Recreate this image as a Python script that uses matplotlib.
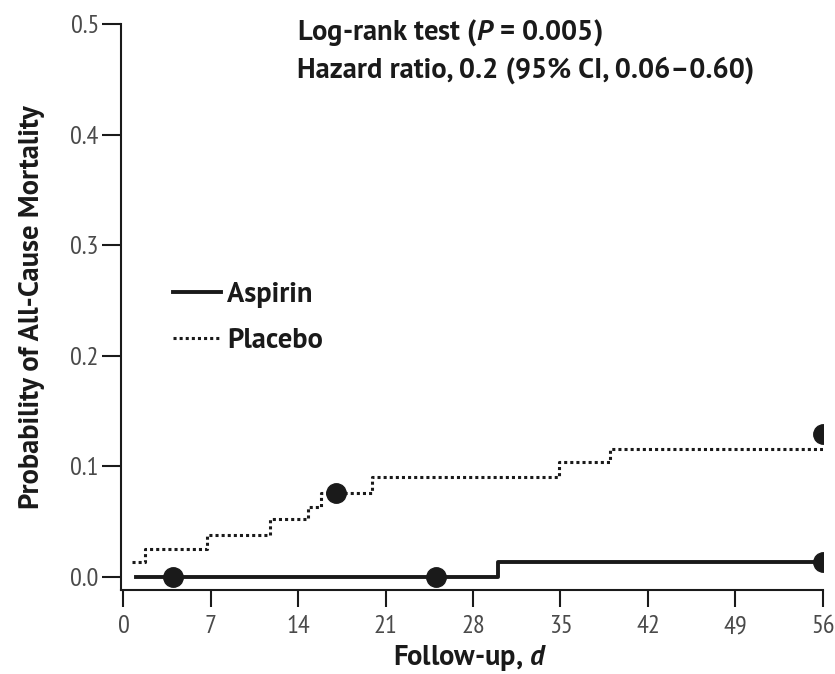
import matplotlib.pyplot as plt

# step data (days, cumulative probability)
aspirin_days = [1, 30, 56]
aspirin_prob = [0.0, 0.013, 0.013]
placebo_days = [0.7, 1.7, 6.7, 11.7, 14.8, 15.8, 19.9, 34.9, 39.0, 56]
placebo_prob = [0.013, 0.025, 0.038, 0.052, 0.063, 0.076, 0.090, 0.104, 0.116, 0.116]

# censoring dots
aspirin_cens_x = [4, 25, 56]
aspirin_cens_y = [0.0, 0.0, 0.013]
placebo_cens_x = [17, 56]
placebo_cens_y = [0.076, 0.129]

xticks = [0, 7, 14, 21, 28, 35, 42, 49, 56]
yticks = [0.0, 0.1, 0.2, 0.3, 0.4, 0.5]

MAIN = ['PT Sans', 'DejaVu Sans']
NARROW = ['PT Sans Narrow', 'DejaVu Sans']
plt.rcParams['font.family'] = MAIN
plt.rcParams['mathtext.fontset'] = 'custom'
plt.rcParams['mathtext.bfit'] = 'PT Sans:italic:bold'
plt.rcParams['mathtext.it'] = 'PT Sans:italic'
plt.rcParams['mathtext.rm'] = 'PT Sans'
plt.rcParams['mathtext.bf'] = 'PT Sans:bold'
ink = '#1a1a1a'
W, H = 835, 674
FS = 20.5

fig = plt.figure(figsize=(8.35, 6.74), dpi=100)
ax = fig.add_axes([121 / W, 84 / H, 701.7 / W, 566 / H])

ax.step(aspirin_days, aspirin_prob, where='post', color=ink, lw=2.8,
        label='Aspirin')
ax.step(placebo_days, placebo_prob, where='post', color=ink, lw=2.2,
        linestyle=(0, (1, 1)), label='Placebo')
ax.plot(aspirin_cens_x, aspirin_cens_y, 'o', color=ink, ms=14, zorder=3)
ax.plot(placebo_cens_x, placebo_cens_y, 'o', color=ink, ms=14, zorder=3)

ax.set_xlim(-0.2, 56)
ax.set_ylim(-0.012, 0.5)
ax.set_xticks(xticks)
ax.set_yticks(yticks)
ax.set_yticklabels(['%.1f' % v for v in yticks])
ax.tick_params(axis='both', direction='out', width=1.5,
               color=ink, labelsize=19, labelcolor='#4a4a4a')
ax.tick_params(axis='x', length=12, pad=6)
ax.tick_params(axis='y', length=14, pad=2)
for lab in ax.get_xticklabels() + ax.get_yticklabels():
    lab.set_family(NARROW)
for s in ['top', 'right']:
    ax.spines[s].set_visible(False)
for s in ['left', 'bottom']:
    ax.spines[s].set_linewidth(1.5)
    ax.spines[s].set_color(ink)

ax.set_xlabel('Follow-up, $\\bfit{d}$', fontsize=FS, fontweight='bold',
              color=ink)
ax.set_ylabel('Probability of All-Cause Mortality', fontsize=FS,
              fontweight='bold', color=ink)
ax.xaxis.label.set_va('baseline')
ax.xaxis.set_label_coords(0.497, -0.133)
ax.yaxis.set_label_coords(-0.108, 0.5)

fig.text(297 / W, 1 - 40 / H, 'Log-rank test ($\\bfit{P}$ = 0.005)',
         fontsize=FS, fontweight='bold', color=ink, va='baseline')
fig.text(297 / W, 1 - 78 / H, 'Hazard ratio, 0.2 (95% CI, 0.06\u20130.60)',
         fontsize=FS, fontweight='bold', color=ink, va='baseline')

leg = ax.legend(loc='center left', bbox_to_anchor=(173 / W, 1 - 318 / H),
                bbox_transform=fig.transFigure, frameon=False, borderpad=0,
                borderaxespad=0, handlelength=1.7, handletextpad=0.2,
                labelspacing=0.68,
                prop={'weight': 'bold', 'size': FS, 'family': MAIN})
for t in leg.get_texts():
    t.set_color(ink)

fig.savefig('out.png', dpi=100)
